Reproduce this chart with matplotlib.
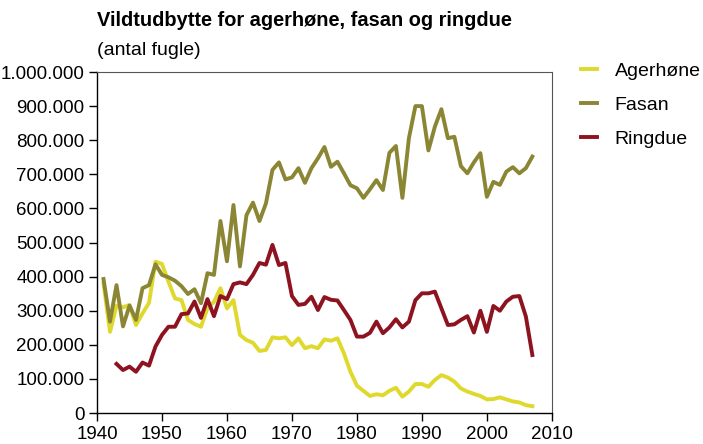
import matplotlib
matplotlib.use("Agg")
import matplotlib.pyplot as plt
from matplotlib.ticker import FuncFormatter

plt.rcParams['font.family'] = ['Liberation Sans', 'DejaVu Sans']

years = list(range(1941, 2008))

agerhone = [380, 238, 315, 310, 317, 258, 292, 323, 444, 437,
            385, 336, 331, 273, 261, 253, 307, 326, 366, 307,
            331, 229, 214, 206, 182, 185, 222, 219, 222, 199,
            219, 190, 196, 190, 216, 212, 219, 175, 121, 80,
            65, 50, 55, 52, 65, 74, 48, 63, 85, 85,
            77, 97, 111, 104, 92, 72, 63, 56, 50, 40,
            41, 46, 40, 34, 31, 23, 20]

fasan = [393, 268, 375, 254, 315, 273, 366, 375, 436, 405,
         398, 388, 372, 349, 363, 322, 410, 405, 563, 445,
         610, 430, 580, 617, 563, 615, 713, 735, 685, 691,
         718, 675, 718, 747, 780, 722, 737, 703, 668, 659,
         631, 656, 683, 654, 763, 783, 631, 806, 900, 900,
         770, 840, 891, 806, 810, 724, 703, 735, 762, 634,
         678, 669, 708, 721, 703, 718, 752]

ringdue_years = list(range(1943, 2008))
ringdue = [144, 126, 136, 121, 148, 139, 195, 229, 253, 253,
           290, 292, 327, 279, 334, 284, 343, 334, 378, 383,
           378, 405, 440, 435, 493, 434, 440, 343, 317, 320,
           341, 302, 340, 332, 330, 302, 273, 224, 224, 235,
           268, 234, 251, 275, 251, 268, 331, 351, 351, 356,
           307, 258, 260, 273, 284, 236, 300, 238, 314, 300,
           327, 341, 343, 283, 170]

fig = plt.figure(figsize=(7.03, 4.44), dpi=100)
ax = fig.add_axes([0.138, 0.0698, 0.647, 0.768])

lw = 2.8
ax.plot(years, [v * 1000 for v in agerhone], color='#dfd92e', lw=lw, label='Agerhøne', solid_joinstyle='round')
ax.plot(years, [v * 1000 for v in fasan], color='#8b8633', lw=lw, label='Fasan', solid_joinstyle='round')
ax.plot(ringdue_years, [v * 1000 for v in ringdue], color='#8e1320', lw=lw, label='Ringdue', solid_joinstyle='round')

ax.set_xlim(1940, 2010)
ax.set_ylim(0, 1000000)
ax.set_xticks(range(1940, 2011, 10))
ax.set_yticks(range(0, 1000001, 100000))
ax.yaxis.set_major_formatter(FuncFormatter(lambda v, p: f"{int(v):,}".replace(",", ".")))
ax.tick_params(direction='out', length=6, width=1, labelsize=13.5, pad=3)
for s in ['top', 'right']:
    ax.spines[s].set_color('#555555')
    ax.spines[s].set_linewidth(0.8)
for s in ['left', 'bottom']:
    ax.spines[s].set_linewidth(1.0)

fig.text(0.138, 0.953, "Vildtudbytte for agerhøne, fasan og ringdue",
         fontsize=14.4, fontweight='bold', ha='left', va='center')
fig.text(0.138, 0.887, "(antal fugle)", fontsize=14, ha='left', va='center')

fig.legend(loc='upper left', bbox_to_anchor=(0.826, 0.859), frameon=False,
           fontsize=14, handlelength=0.85, handletextpad=0.9, labelspacing=0.84,
           borderaxespad=0, borderpad=0)

fig.savefig("out.png", dpi=100)
